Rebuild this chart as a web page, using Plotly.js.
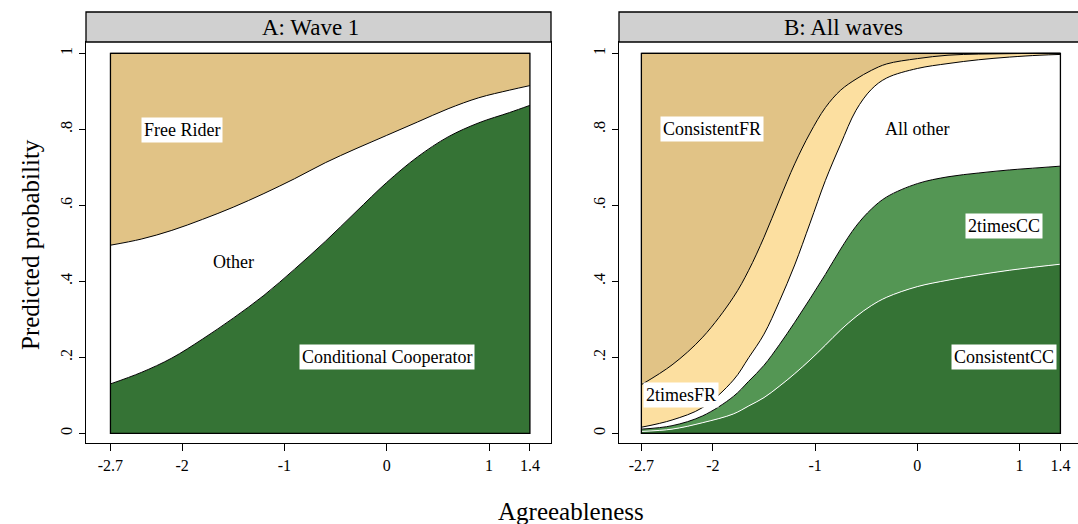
<!DOCTYPE html>
<html>
<head>
<meta charset="utf-8">
<script src="https://cdn.plot.ly/plotly-3.0.1.min.js"></script>
<style>html,body{margin:0;padding:0;background:#fff;}#chart{width:1078px;height:524px;}</style>
</head>
<body>
<div id="chart"></div>
<script>
// ---- Panel A: Wave 1 (predicted probability per type) ----
const xA = [-2.7,-2.4,-2.1,-1.8,-1.5,-1.2,-0.9,-0.6,-0.3,0,0.3,0.6,0.9,1.2,1.4];
const condCoopA = [0.13,0.16,0.198,0.248,0.303,0.363,0.432,0.505,0.583,0.66,0.727,0.78,0.817,0.844,0.863];
const otherA    = [0.365,0.351,0.336,0.315,0.292,0.268,0.238,0.207,0.166,0.124,0.092,0.074,0.066,0.059,0.052];
const freeRiderA= [0.505,0.489,0.466,0.437,0.405,0.369,0.33,0.288,0.251,0.216,0.181,0.146,0.117,0.097,0.085];

// ---- Panel B: All waves ----
const xB = [-2.7,-2.4,-2.1,-1.8,-1.65,-1.5,-1.35,-1.2,-1.05,-0.9,-0.75,-0.6,-0.45,-0.3,0,0.3,0.6,0.9,1.2,1.4];
const consistentCC = [0.005,0.011,0.028,0.051,0.072,0.094,0.124,0.157,0.193,0.232,0.272,0.307,0.336,0.358,0.386,0.403,0.417,0.429,0.439,0.445];
const twoTimesCC   = [0.006,0.009,0.018,0.046,0.065,0.085,0.109,0.135,0.161,0.186,0.213,0.238,0.254,0.264,0.271,0.272,0.268,0.264,0.26,0.258];
const allOther     = [0.005,0.015,0.022,0.043,0.062,0.082,0.114,0.151,0.199,0.247,0.276,0.305,0.315,0.313,0.303,0.298,0.298,0.297,0.296,0.294];
const twoTimesFR   = [0.112,0.145,0.185,0.218,0.23,0.255,0.267,0.266,0.237,0.192,0.142,0.082,0.05,0.037,0.026,0.022,0.015,0.009,0.005,0.003];
const consistentFR = [0.872,0.82,0.747,0.642,0.571,0.484,0.386,0.291,0.21,0.143,0.097,0.068,0.045,0.028,0.014,0.005,0.002,0.001,0,0];

// ---- Axis ticks ----
const xTickVals = [-2.7,-2,-1,0,1,1.4];
const xTickText = ['-2.7','-2','-1','0','1','1.4'];
const yTickVals = [0,0.2,0.4,0.6,0.8,1];
const yTickText = ['0','.2','.4','.6','.8','1'];

const TAN = '#E1C386', LTAN = '#FCDFA0', DGREEN = '#357335', MGREEN = '#549654';
const FONT = '"Liberation Serif", "Times New Roman", serif';

// stack categories (bottom to top) into filled bands
function bands(x, series, xa, ya) {
  const run = x.map(() => 0);
  return series.map((s, i) => {
    const y = s.vals.map((v, k) => (run[k] += v));
    return {x: x, y: y.slice(), type: 'scatter', mode: 'lines', name: s.name,
      xaxis: xa, yaxis: ya, fill: i === 0 ? 'tozeroy' : 'tonexty', fillcolor: s.fill,
      line: {color: s.line, width: 1, shape: 'spline', smoothing: 1}, hoverinfo: 'skip'};
  });
}

const data = [].concat(
  bands(xA, [
    {vals: condCoopA, fill: DGREEN, line: '#000', name: 'Conditional Cooperator'},
    {vals: otherA, fill: '#FFFFFF', line: '#000', name: 'Other'},
    {vals: freeRiderA, fill: TAN, line: '#000', name: 'Free Rider'}
  ], 'x', 'y'),
  bands(xB, [
    {vals: consistentCC, fill: DGREEN, line: '#FFFFFF', name: 'ConsistentCC'},
    {vals: twoTimesCC, fill: MGREEN, line: '#000', name: '2timesCC'},
    {vals: allOther, fill: '#FFFFFF', line: '#000', name: 'All other'},
    {vals: twoTimesFR, fill: LTAN, line: '#000', name: '2timesFR'},
    {vals: consistentFR, fill: TAN, line: '#000', name: 'ConsistentFR'}
  ], 'x2', 'y2')
);

const W = 1078, H = 524;
const px = v => v / W, py = v => 1 - v / H;

function xaxisDef(dom, rng, anchor, mirror) {
  return {domain: dom, range: rng, anchor: anchor, showgrid: false, zeroline: false,
    showline: true, mirror: mirror, linecolor: '#000', linewidth: 1.3,
    ticks: 'outside', ticklen: 7, tickwidth: 1, tickcolor: '#000',
    tickvals: xTickVals, ticktext: xTickText, tickfont: {family: FONT, size: 16, color: '#000'}};
}
function yaxisDef(rng, anchor, mirror) {
  return {domain: [py(443), py(42)], range: rng, anchor: anchor, showgrid: false, zeroline: false,
    showline: true, mirror: mirror, linecolor: '#000', linewidth: 1.3,
    ticks: 'outside', ticklen: 6, tickwidth: 1, tickcolor: '#000', tickangle: -90,
    tickvals: yTickVals, ticktext: yTickText, tickfont: {family: FONT, size: 16, color: '#000'}};
}

const yRange = [-0.0255, 1.0297];

const labelFont = {family: FONT, size: 18, color: '#000'};
function lab(x, y, text, xr, yr, box) {
  return {x: x, y: y, xref: xr, yref: yr, text: text, showarrow: false, font: labelFont,
    xanchor: 'center', yanchor: 'middle',
    bgcolor: box ? '#FFFFFF' : 'rgba(0,0,0,0)', borderpad: 2};
}
function ptxt(x, y, text, size, angle) {
  return {xref: 'paper', yref: 'paper', x: px(x), y: py(y), text: text, showarrow: false,
    xanchor: 'center', yanchor: 'middle', textangle: angle || 0,
    font: {family: FONT, size: size, color: '#000'}};
}

const layout = {
  width: W, height: H, autosize: false,
  margin: {l: 0, r: 0, t: 0, b: 0},
  paper_bgcolor: '#FFFFFF', plot_bgcolor: '#FFFFFF',
  showlegend: false,
  font: {family: FONT, color: '#000'},
  xaxis: xaxisDef([px(86), px(551)], [-2.939, 1.606], 'y', true),
  yaxis: yaxisDef(yRange, 'x', true),
  xaxis2: xaxisDef([px(619), 1], [-2.919, 1.572], 'y2', true),
  yaxis2: yaxisDef(yRange, 'x2', false),
  shapes: [
    {type: 'rect', xref: 'x', yref: 'y', x0: -2.7, x1: 1.4, y0: 0, y1: 1, line: {color: '#000', width: 1.3}, layer: 'above'},
    {type: 'rect', xref: 'x2', yref: 'y2', x0: -2.7, x1: 1.4, y0: 0, y1: 1, line: {color: '#000', width: 1.3}, layer: 'above'},
    {type: 'rect', xref: 'paper', yref: 'paper', x0: px(86), x1: px(551), y0: py(42), y1: py(12), fillcolor: '#D0D0D0', line: {color: '#000', width: 1.3}},
    {type: 'rect', xref: 'paper', yref: 'paper', x0: px(619), x1: px(1090), y0: py(42), y1: py(12), fillcolor: '#D0D0D0', line: {color: '#000', width: 1.3}}
  ],
  annotations: [
    ptxt(310, 27, 'A: Wave 1', 23),
    ptxt(843, 27, 'B: All waves', 23),
    ptxt(30, 245, 'Predicted probability', 25, -90),
    ptxt(571, 511, 'Agreeableness', 25),
    lab(-2.0, 0.798, 'Free Rider', 'x', 'y', true),
    lab(-1.5, 0.45, 'Other', 'x', 'y', false),
    lab(0.0, 0.2, 'Conditional Cooperator', 'x', 'y', true),
    lab(-2.01, 0.8, 'ConsistentFR', 'x2', 'y2', true),
    lab(0.0, 0.8, 'All other', 'x2', 'y2', false),
    lab(0.85, 0.546, '2timesCC', 'x2', 'y2', true),
    lab(0.85, 0.2, 'ConsistentCC', 'x2', 'y2', true),
    lab(-2.31, 0.10, '2timesFR', 'x2', 'y2', true)
  ]
};

Plotly.newPlot('chart', data, layout, {staticPlot: true, displayModeBar: false});
</script>
</body>
</html>
